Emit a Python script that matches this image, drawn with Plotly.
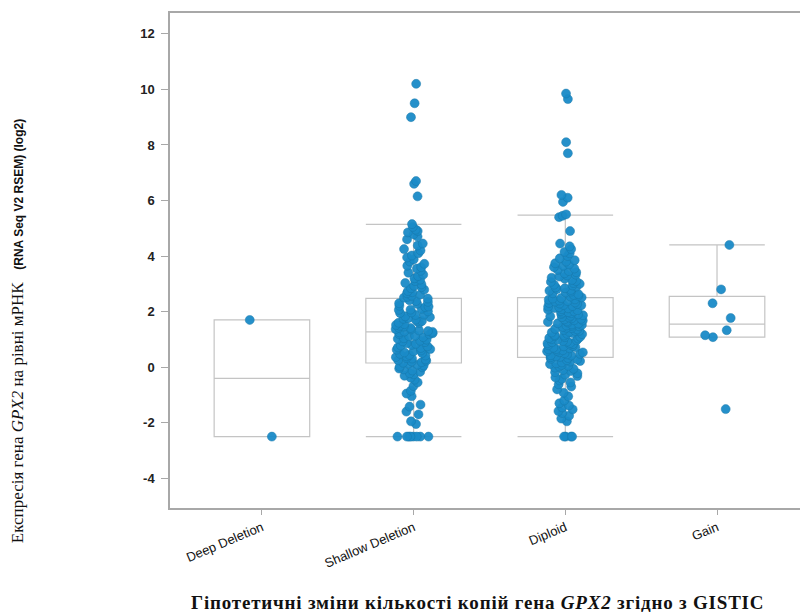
import plotly.graph_objects as go

categories = ["Deep Deletion", "Shallow Deletion", "Diploid", "Gain"]

# precomputed box statistics
q1 = [-2.5, 0.15, 0.35, 1.08]
median = [-0.4, 1.27, 1.48, 1.55]
q3 = [1.7, 2.48, 2.5, 2.55]
lowerfence = [-2.5, -2.5, -2.5, 1.08]
upperfence = [1.7, 5.14, 5.47, 4.4]

deep_values = [1.7, -2.5]

shallow_values = [
    10.2, 9.5, 9.0, 6.7, 6.6, 6.15, 5.15, 5.05, 4.95, 4.9, 4.85, 4.78, 4.7, 4.6,
    4.45, 4.38, 4.25, 4.2, 4.1, 4.02, 3.95, 3.88, 3.8, 3.72, 3.65, 3.6, 3.55,
    3.47, 3.4, 3.33, 3.28, 3.2, 3.15, 3.1, 3.03, 2.98, 2.93, 2.88, 2.84, 2.79,
    2.74, 2.7, 2.66, 2.61, 2.57, 2.53, 2.5,
    2.47, 2.41, 2.38, 2.35, 2.3, 2.28, 2.21, 2.18, 2.16, 2.1, 2.07, 2.06, 2.01,
    1.97, 1.95, 1.89, 1.88, 1.83, 1.8, 1.76, 1.74, 1.71, 1.66, 1.65, 1.6, 1.59,
    1.55, 1.52, 1.49, 1.46, 1.42, 1.41, 1.37, 1.36, 1.32, 1.3, 1.28, 1.27,
    1.25, 1.22, 1.19, 1.18, 1.13, 1.11, 1.08, 1.04, 1.02, 0.99, 0.95, 0.93, 0.9,
    0.86, 0.84, 0.8, 0.78, 0.75, 0.71, 0.69, 0.65, 0.63, 0.6, 0.57, 0.53, 0.51,
    0.48, 0.44, 0.42, 0.39, 0.36, 0.33, 0.31, 0.28, 0.25, 0.23, 0.2, 0.18, 0.16,
    0.12, 0.09, 0.06, 0.02, -0.01, -0.05, -0.08, -0.12, -0.17, -0.22, -0.26,
    -0.31, -0.38, -0.45, -0.55, -0.68, -0.85, -0.95, -1.05, -1.35, -1.42, -1.6,
    -1.7, -1.95, -2.05,
    -2.5, -2.5, -2.5, -2.5, -2.5, -2.5, -2.5, -2.5,
]

diploid_values = [
    9.85, 9.65, 8.1, 7.7, 6.2, 6.1, 5.95, 5.5, 5.45, 5.4, 4.9, 4.45, 4.35, 4.25,
    4.15, 4.1, 4.0, 3.92, 3.85, 3.8, 3.74, 3.7, 3.65, 3.6, 3.55, 3.5, 3.46,
    3.42, 3.38, 3.33, 3.3, 3.26, 3.22, 3.18, 3.14, 3.1, 3.07, 3.03, 3.0, 2.97,
    2.94, 2.9, 2.87, 2.84, 2.81, 2.78, 2.75, 2.72, 2.69, 2.66, 2.63, 2.6, 2.57,
    2.54, 2.51,
    2.49, 2.47, 2.44, 2.43, 2.4, 2.38, 2.36, 2.33, 2.31, 2.29, 2.27, 2.24, 2.23,
    2.2, 2.18, 2.16, 2.13, 2.12, 2.09, 2.07, 2.05, 2.02, 2.01, 1.98, 1.96, 1.94,
    1.91, 1.9, 1.87, 1.85, 1.83, 1.8, 1.79, 1.76, 1.74, 1.72, 1.69, 1.68, 1.65,
    1.63, 1.61, 1.58, 1.57, 1.54, 1.52, 1.5, 1.49,
    1.47, 1.45, 1.42, 1.41, 1.38, 1.36, 1.34, 1.31, 1.3, 1.27, 1.25, 1.23, 1.2,
    1.19, 1.16, 1.14, 1.12, 1.09, 1.08, 1.05, 1.03, 1.01, 0.98, 0.97, 0.94,
    0.92, 0.9, 0.87, 0.86, 0.83, 0.81, 0.79, 0.76, 0.75, 0.72, 0.7, 0.68, 0.65,
    0.64, 0.61, 0.59, 0.57, 0.54, 0.53, 0.5, 0.48, 0.46, 0.43, 0.42, 0.39, 0.37,
    0.36,
    0.33, 0.3, 0.28, 0.25, 0.22, 0.2, 0.17, 0.14, 0.11, 0.08, 0.05, 0.02, -0.02,
    -0.06, -0.1, -0.14, -0.18, -0.22, -0.27, -0.32, -0.37, -0.42, -0.48, -0.55,
    -0.62, -0.7, -0.8, -0.92, -1.05, -1.2, -1.3, -1.38, -1.45, -1.52, -1.58,
    -1.65, -1.75, -1.85, -1.95,
    -2.5, -2.5, -2.5, -2.5,
]

gain_values = [4.4, 2.8, 2.3, 1.77, 1.33, 1.15, 1.08, -1.51]

series_values = [deep_values, shallow_values, diploid_values, gain_values]

y_tick_values = [-4, -2, 0, 2, 4, 6, 8, 10, 12]
y_tick_labels = ["-4", "-2", "0", "2", "4", "6", "8", "10", "12"]

POINT_COLOR = "#1a8bc8"
BOX_LINE = "#c4c4c4"
AXIS_LINE = "#a8a8a8"

fig = go.Figure()

# boxes from precomputed statistics
fig.add_trace(go.Box(
    x=categories,
    q1=q1, median=median, q3=q3,
    lowerfence=lowerfence, upperfence=upperfence,
    boxpoints=False,
    fillcolor="rgba(255,255,255,0)",
    line=dict(color=BOX_LINE, width=1.2),
    whiskerwidth=1,
    width=0.63,
    showlegend=False,
    hoverinfo="skip",
))

# sample points, jittered by the library
pts_x = []
pts_y = []
for cat, vals in zip(categories, series_values):
    pts_x += [cat] * len(vals)
    pts_y += vals

fig.add_trace(go.Box(
    x=pts_x, y=pts_y,
    boxpoints="all", jitter=0.4, pointpos=0,
    fillcolor="rgba(0,0,0,0)",
    line=dict(color="rgba(0,0,0,0)", width=0),
    whiskerwidth=0,
    width=0.63,
    marker=dict(color=POINT_COLOR, size=9, opacity=0.95,
                line=dict(color="#1677a8", width=0.5)),
    showlegend=False,
))

fig.update_layout(
    width=800, height=612,
    margin=dict(l=170, r=0, t=13, b=104),
    paper_bgcolor="white", plot_bgcolor="white",
    boxmode="overlay",
    showlegend=False,
    xaxis=dict(
        type="category",
        categoryorder="array", categoryarray=categories,
        range=[-0.606, 3.547],
        showline=True, linecolor=AXIS_LINE, linewidth=2, mirror=True,
        ticks="outside", ticklen=5, tickcolor=AXIS_LINE, tickwidth=1,
        tickangle=-23,
        tickfont=dict(family="Liberation Sans, Arial", size=13, color="#111"),
        showgrid=False, zeroline=False,
    ),
    yaxis=dict(
        range=[-5.07, 12.75],
        tickvals=y_tick_values, ticktext=y_tick_labels,
        showline=True, linecolor=AXIS_LINE, linewidth=1.5, mirror=False,
        ticks="outside", ticklen=7, tickcolor=AXIS_LINE, tickwidth=1,
        ticklabelstandoff=4,
        tickfont=dict(family="Liberation Sans, Arial", size=13, color="#222",
                      weight="bold"),
        showgrid=False, zeroline=False,
    ),
    annotations=[
        dict(
            text="Експресія гена <i>GPX2</i> на рівні мРНК   "
                 "<span style='font-family:Liberation Sans Narrow, Liberation Sans, Arial;"
                 "font-size:12px'><b>(RNA Seq V2 RSEM) (log2)</b></span>",
            xref="paper", yref="paper",
            x=-0.241, y=(508 - 331) / 495, textangle=-90,
            xanchor="center", yanchor="middle", showarrow=False,
            font=dict(family="Liberation Serif, Times New Roman", size=17, color="#111"),
        ),
        dict(
            text="<b><span style='letter-spacing:0.8px'>Гіпотетичні зміни кількості копій гена "
                 "<i>GPX2</i> згідно з GISTIC</span></b>",
            xref="paper", yref="paper",
            x=(477 - 170) / 630, y=-(602 - 508) / 495,
            xanchor="center", yanchor="middle", showarrow=False,
            font=dict(family="Liberation Serif, Times New Roman", size=19, color="#111"),
        ),
    ],
)

fig.write_html("out.html", config={"displayModeBar": False},
               post_script="document.body.style.margin='0';")
